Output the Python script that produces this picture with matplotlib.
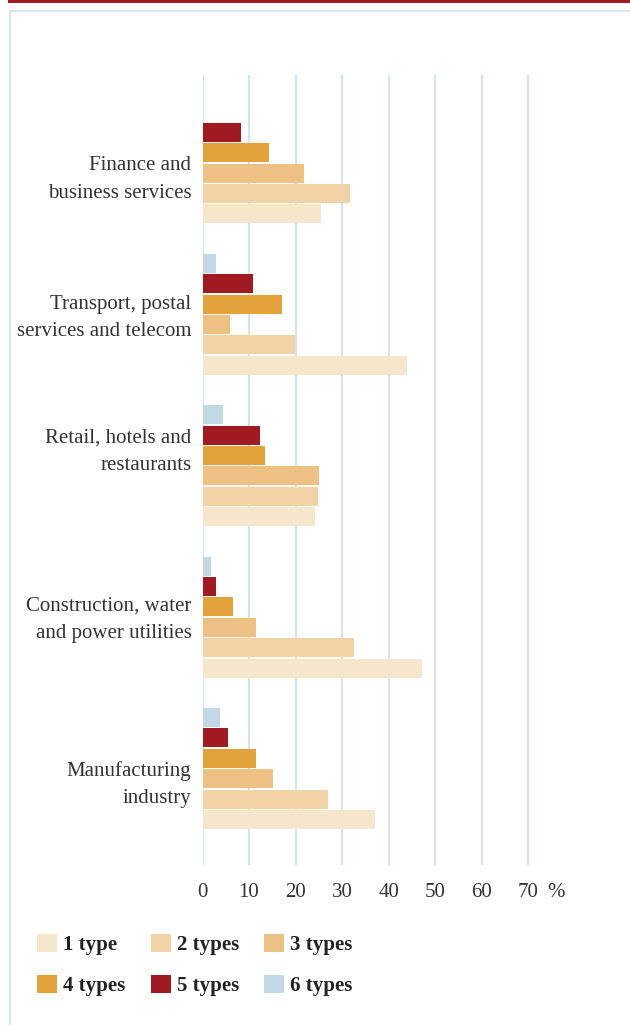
import numpy as np
import matplotlib
matplotlib.use("Agg")
import matplotlib.pyplot as plt
from matplotlib.patches import Rectangle, Patch
from matplotlib.lines import Line2D

# Share of firms by number of types (%), per industry
categories = [
    "Finance and\nbusiness services",
    "Transport, postal\nservices and telecom",
    "Retail, hotels and\nrestaurants",
    "Construction, water\nand power utilities",
    "Manufacturing\nindustry",
]
one_type = [25.5, 43.9, 24.2, 47.2, 37.1]
two_types = [31.7, 19.9, 24.8, 32.6, 27.0]
three_types = [21.8, 5.9, 25.0, 11.5, 15.2]
four_types = [14.3, 17.1, 13.4, 6.6, 11.5]
five_types = [8.3, 10.9, 12.4, 2.9, 5.5]
six_types = [0.0, 2.9, 4.4, 1.8, 3.8]
series_labels = ["1 type", "2 types", "3 types", "4 types", "5 types", "6 types"]
x_ticks = [0, 10, 20, 30, 40, 50, 60, 70]

series = [one_type, two_types, three_types, four_types, five_types, six_types]
colors = ["#f5e6cc", "#f2d3a8", "#edc183", "#e3a23c", "#a01a22", "#c2d8e5"]
grid_color = "#d3e4ee"
text_color = "#333333"

# vertical nudge of each category label relative to its bar group (group units)
label_shift = [0.066, -0.019, -0.134, -0.028, 0.063]

plt.rcParams["font.family"] = ["Liberation Serif", "DejaVu Serif"]

W, H = 630, 1025
fig = plt.figure(figsize=(W / 100, H / 100), dpi=100)
fig.patch.set_facecolor("white")

# decorative frame: red rule on top, light blue panel edges
fig.patches.append(Rectangle((8 / W, 1 - 3 / H), 1 - 8 / W, 3 / H,
                             transform=fig.transFigure, color="#a01c22", lw=0))
fig.lines.append(Line2D([9.5 / W, 9.5 / W, 1.0], [0.0, 1 - 10.5 / H, 1 - 10.5 / H],
                        transform=fig.transFigure, color="#d2e2ec", lw=1.2))

# plot area in pixels (the unit label "%" sits just past the last gridline)
x_max = 78
px_per_unit = 4.653
left_px = 202.5
right_px = left_px + x_max * px_per_unit
top_px, bot_px = 75, 865
ax = fig.add_axes([left_px / W, 1 - bot_px / H, (right_px - left_px) / W, (bot_px - top_px) / H])
ax.set_facecolor("none")

n = len(categories)
group_y = np.arange(n)
slot = 0.1347
bar_h = 0.1255
for k, (vals, col) in enumerate(zip(series, colors)):
    offset = (2.5 - k) * slot
    ax.barh(group_y + offset, vals, height=bar_h, color=col, lw=0, zorder=3,
            label=series_labels[k])

ax.set_xlim(0, x_max)
ax.set_ylim(4.637, -0.581)
ax.set_xticks(x_ticks + [76])
ax.set_xticklabels([str(t) for t in x_ticks] + ["%"])
ax.set_yticks(group_y + np.array(label_shift))
ax.set_yticklabels(categories, linespacing=1.6)
ax.tick_params(axis="x", length=0, pad=13, labelsize=15, labelcolor=text_color)
ax.tick_params(axis="y", length=0, pad=8, labelsize=15, labelcolor=text_color)
for s in ax.spines.values():
    s.set_visible(False)
for t in x_ticks:
    ax.axvline(t, color=grid_color, lw=1.5, zorder=1)

# legend, column-major order so rows read 1-2-3 / 4-5-6
handles = [Patch(facecolor=c, edgecolor="none") for c in colors]
order = [0, 3, 1, 4, 2, 5]
leg = fig.legend([handles[i] for i in order], [series_labels[i] for i in order],
                 ncol=3, loc="upper left", bbox_to_anchor=(37 / W, 1 - 934 / H),
                 frameon=False, borderpad=0, borderaxespad=0,
                 handlelength=0.96, handleheight=0.96, handletextpad=0.3,
                 columnspacing=1.2, labelspacing=0.95,
                 prop={"family": "Liberation Serif", "weight": "bold", "size": 15})
for txt in leg.get_texts():
    txt.set_color("#222222")

fig.savefig("out.png", dpi=100, facecolor="white")
